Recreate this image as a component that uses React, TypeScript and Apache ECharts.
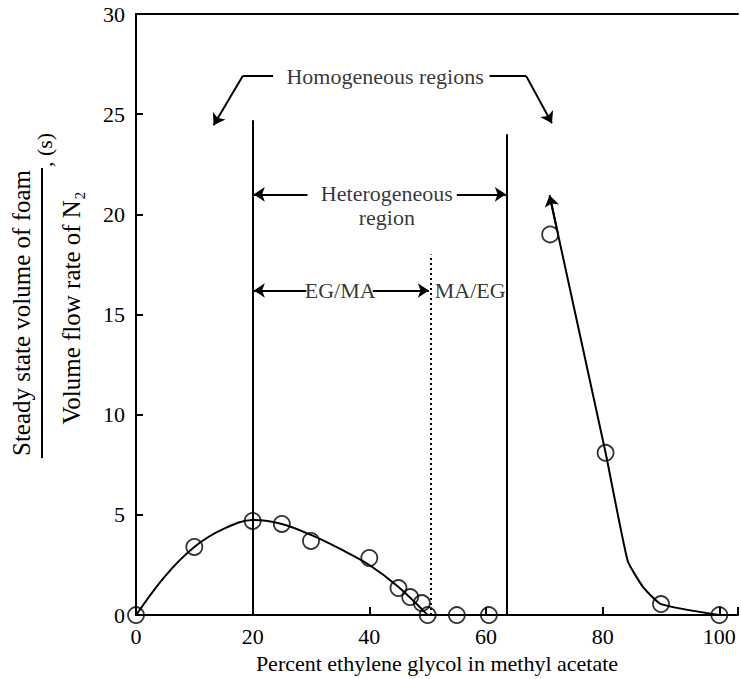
import React, { useEffect, useRef } from "react";
import * as echarts from "echarts";

// Measured foam points (percent EG, foam ratio in s)
const pointX = [0, 10, 20, 25, 30, 40, 45, 47, 49, 50, 55, 60.5, 71, 80.5, 90, 100];
const pointY = [0, 3.4, 4.7, 4.55, 3.7, 2.85, 1.35, 0.9, 0.6, 0, 0, 0, 19, 8.1, 0.55, 0];

// Fitted curve through EG/MA side
const egCurveX = [0, 5, 10, 15, 20, 25, 30, 35, 40, 45, 50];
const egCurveY = [0, 1.95, 3.4, 4.3, 4.75, 4.55, 4.0, 3.3, 2.5, 1.4, 0];

// Curve on the homogeneous EG-rich side
const maCurveX = [71, 80.5, 84.3, 87, 90, 100];
const maCurveY = [20.8, 8.1, 2.7, 1.37, 0.55, 0];

const xTicks = [0, 20, 40, 60, 80, 100];
const yTicks = [0, 5, 10, 15, 20, 25, 30];

// Region boundaries
const boundaryX = [20, 63.6];
const boundaryTop = [24.7, 24.0];
const dottedX = 50.5;
const dottedTop = 18;

const annotations: [number, number, string][] = [
  [42.7, 26.9, "Homogeneous regions"],
  [43, 20.45, "Heterogeneous\nregion"],
  [35, 16.2, "EG/MA"],
  [57.3, 16.2, "MA/EG"],
];

const FONT = "'Liberation Serif', 'Times New Roman', serif";

export default function App() {
  const ref = useRef<HTMLDivElement>(null);
  useEffect(() => {
    if (!ref.current) return;
    const chart = echarts.init(ref.current, undefined, { renderer: "svg" });

    const zip = (xs: number[], ys: number[]) => xs.map((x, i) => [x, ys[i]]);

    const plainLines = [
      { coords: [[boundaryX[0], 0], [boundaryX[0], boundaryTop[0]]] },
      { coords: [[boundaryX[1], 0], [boundaryX[1], boundaryTop[1]]] },
      { coords: [[23.5, 26.9], [18.3, 26.9]] },
      { coords: [[60.6, 26.9], [66.9, 26.9]] },
    ];
    const arrowLines = [
      { coords: [[18.3, 26.9], [13.3, 24.45]] },
      { coords: [[66.9, 26.9], [71.3, 24.55]] },
      { coords: [[29.4, 21.0], [20.2, 21.0]] },
      { coords: [[55, 21.0], [63.4, 21.0]] },
      { coords: [[29.2, 16.2], [20.2, 16.2]] },
      { coords: [[40.6, 16.2], [50.2, 16.2]] },
      { coords: [[72.2, 19.2], [70.9, 20.95]] },
    ];

    chart.setOption({
      animation: false,
      grid: { left: 136, right: 0, top: 14, bottom: 58, containLabel: false },
      xAxis: [
        {
          type: "value",
          min: 0,
          max: 103.2,
          interval: 20,
          axisLine: { show: true, lineStyle: { color: "#000", width: 2 } },
          axisTick: { show: true, inside: true, length: 8, lineStyle: { color: "#000", width: 2 } },
          axisLabel: {
            color: "#000",
            fontSize: 22,
            fontFamily: FONT,
            margin: 10,
            formatter: (v: number) => (xTicks.includes(v) ? String(v) : ""),
          },
          splitLine: { show: false },
          name: "Percent ethylene glycol in methyl acetate",
          nameLocation: "middle",
          nameGap: 34,
          nameTextStyle: { color: "#000", fontSize: 22, fontFamily: FONT },
        },
        {
          type: "value",
          position: "top",
          min: 0,
          max: 103.2,
          axisLine: { show: true, lineStyle: { color: "#000", width: 2 } },
          axisTick: { show: false },
          axisLabel: { show: false },
          splitLine: { show: false },
        },
      ],
      yAxis: {
        type: "value",
        min: 0,
        max: 30,
        interval: 5,
        axisLine: { show: true, lineStyle: { color: "#000", width: 2 } },
        axisTick: { show: true, inside: true, length: 7, lineStyle: { color: "#000", width: 2 } },
        axisLabel: {
          color: "#000",
          fontSize: 22,
          fontFamily: FONT,
          margin: 11,
          formatter: (v: number) => (yTicks.includes(v) ? String(v) : ""),
        },
        splitLine: { show: false },
      },
      graphic: [
        {
          type: "text",
          x: 21,
          y: 313,
          rotation: Math.PI / 2,
          style: {
            text: "Steady state volume of foam",
            font: `25px ${FONT}`,
            fill: "#000",
            textAlign: "center",
            textVerticalAlign: "middle",
          },
        },
        {
          type: "line",
          shape: { x1: 42, y1: 168, x2: 42, y2: 458 },
          style: { stroke: "#000", lineWidth: 2 },
        },
        {
          type: "text",
          x: 44,
          y: 150,
          rotation: Math.PI / 2,
          style: {
            text: ", (s)",
            font: `22px ${FONT}`,
            fill: "#000",
            textAlign: "center",
            textVerticalAlign: "middle",
          },
        },
        {
          type: "text",
          x: 71,
          y: 308,
          rotation: Math.PI / 2,
          style: {
            text: "Volume flow rate of N₂",
            font: `25px ${FONT}`,
            fill: "#000",
            textAlign: "center",
            textVerticalAlign: "middle",
          },
        },
      ],
      series: [
        {
          type: "line",
          data: zip(egCurveX, egCurveY),
          smooth: 0.35,
          showSymbol: false,
          symbol: "none",
          lineStyle: { color: "#000", width: 2 },
          z: 3,
        },
        {
          type: "line",
          data: zip(maCurveX, maCurveY),
          smooth: 0.15,
          showSymbol: false,
          symbol: "none",
          lineStyle: { color: "#000", width: 2 },
          z: 3,
        },
        {
          type: "lines",
          coordinateSystem: "cartesian2d",
          data: plainLines,
          symbol: "none",
          lineStyle: { color: "#000", width: 2, opacity: 1 },
          z: 2,
        },
        {
          type: "lines",
          coordinateSystem: "cartesian2d",
          data: [{ coords: [[dottedX, 0], [dottedX, dottedTop]] }],
          symbol: "none",
          lineStyle: { color: "#000", width: 2, type: [2, 3], opacity: 1 },
          z: 2,
        },
        {
          type: "lines",
          coordinateSystem: "cartesian2d",
          data: arrowLines,
          symbol: ["none", "arrow"],
          symbolSize: 11,
          lineStyle: { color: "#000", width: 2, opacity: 1 },
          itemStyle: { color: "#000" },
          z: 2,
        },
        {
          type: "scatter",
          data: zip(pointX, pointY),
          symbol: "circle",
          symbolSize: 16,
          itemStyle: { color: "rgba(0,0,0,0)", borderColor: "#000", borderWidth: 1.8 },
          z: 4,
        },
        {
          type: "scatter",
          data: annotations,
          symbolSize: 0,
          itemStyle: { color: "rgba(0,0,0,0)" },
          label: {
            show: true,
            position: "inside",
            formatter: (p: any) => p.data[2],
            color: "#000",
            fontSize: 22,
            fontFamily: FONT,
            lineHeight: 24,
          },
          z: 5,
        },
      ],
    });
    return () => chart.dispose();
  }, []);
  return (
    <div
      ref={ref}
      style={{ position: "absolute", left: 0, top: 0, width: 741, height: 679 }}
    />
  );
}
